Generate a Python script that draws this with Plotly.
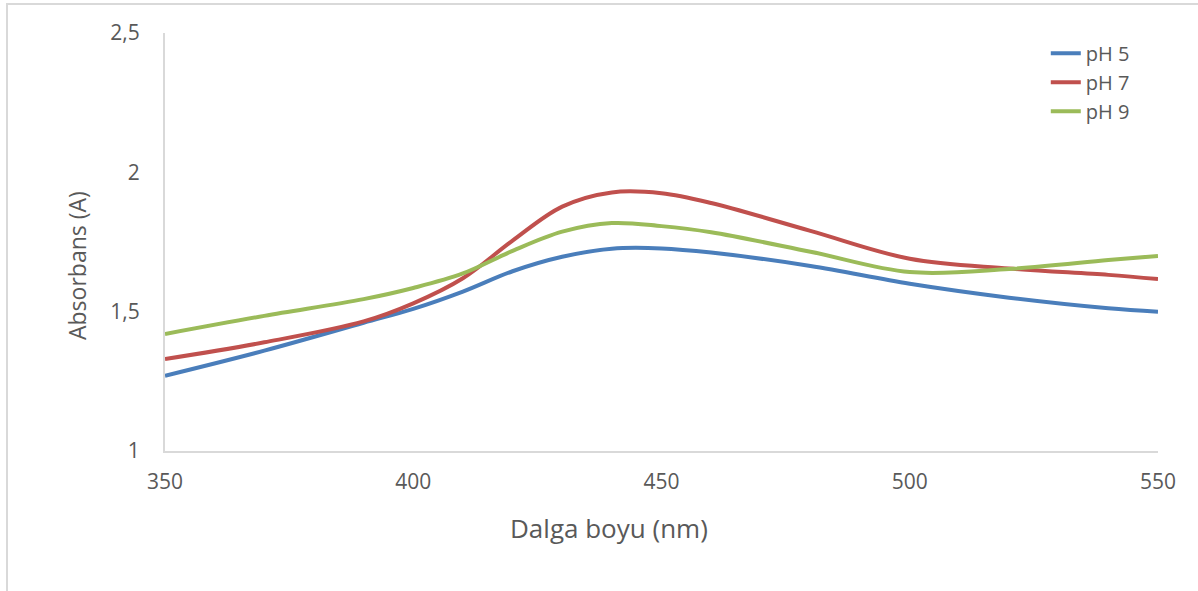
import plotly.graph_objects as go

wavelength = [350, 370, 390, 400, 410, 420, 430, 440, 450, 460, 480, 500, 520, 540, 550]
ph5 = [1.27, 1.36, 1.46, 1.51, 1.572, 1.645, 1.697, 1.726, 1.727, 1.712, 1.664, 1.60, 1.55, 1.512, 1.50]
ph7 = [1.33, 1.39, 1.465, 1.53, 1.62, 1.755, 1.877, 1.928, 1.925, 1.89, 1.79, 1.69, 1.655, 1.632, 1.617]
ph9 = [1.42, 1.485, 1.545, 1.585, 1.637, 1.718, 1.787, 1.818, 1.807, 1.785, 1.715, 1.642, 1.653, 1.685, 1.70]

series = [("pH 5", ph5, "#4a7ebb"), ("pH 7", ph7, "#c0504d"), ("pH 9", ph9, "#9bbb59")]

fig = go.Figure()
for name, vals, color in series:
    fig.add_trace(go.Scatter(x=wavelength, y=vals, name=name, mode="lines",
                             line=dict(color=color, width=4, shape="spline", smoothing=1.0)))

font = "Open Sans, DejaVu Sans, sans-serif"
fig.update_layout(
    width=1198, height=591,
    margin=dict(l=165, r=40, t=33, b=140),
    paper_bgcolor="white", plot_bgcolor="white",
    separators=", ",
    font=dict(family=font, color="#595959", size=21),
    showlegend=True,
    legend=dict(x=0.887, y=0.998, xanchor="left", yanchor="top",
                font=dict(size=20, color="#595959"), bgcolor="rgba(0,0,0,0)",
                tracegroupgap=0, itemwidth=30),
    xaxis=dict(range=[350, 550], tickvals=[350, 400, 450, 500, 550],
               showgrid=False, zeroline=False, showline=True, linecolor="#d9d9d9", linewidth=2,
               ticks="outside", ticklen=11, tickcolor="rgba(0,0,0,0)",
               tickfont=dict(size=21, color="#595959")),
    yaxis=dict(range=[1, 2.5], tickvals=[1, 1.5, 2, 2.5],
               showgrid=False, zeroline=False, showline=True, linecolor="#d9d9d9", linewidth=2,
               ticks="outside", ticklen=19, tickcolor="rgba(0,0,0,0)",
               tickfont=dict(size=21, color="#595959")),
)

fig.add_annotation(text="Dalga boyu (nm)", xref="paper", yref="paper",
                   x=(609 - 165) / 993, y=(451 - 528) / 418, showarrow=False,
                   xanchor="center", yanchor="middle", font=dict(size=26, color="#595959"))
fig.add_annotation(text="Absorbans (A)", xref="paper", yref="paper",
                   x=(77 - 165) / 993, y=(451 - 266) / 418, showarrow=False, textangle=-90,
                   xanchor="center", yanchor="middle", font=dict(size=23, color="#595959"))

fig.add_shape(type="rect", xref="paper", yref="paper",
              x0=(7 - 165) / 993, x1=1.2, y0=-0.6, y1=(451 - 4) / 418,
              line=dict(color="#d9d9d9", width=2), fillcolor="rgba(0,0,0,0)", layer="below")

fig.write_html("out.html", config={"displayModeBar": False},
               post_script="document.body.style.margin='0';document.body.style.overflow='hidden';")
